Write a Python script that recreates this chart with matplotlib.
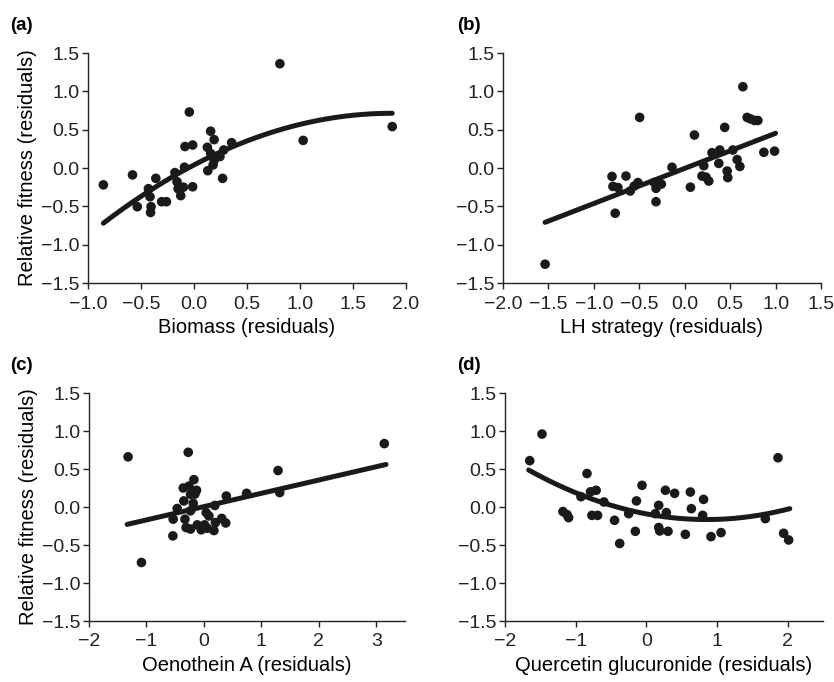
import matplotlib
matplotlib.use("Agg")
import matplotlib.pyplot as plt
import numpy as np

plt.rcParams['font.family'] = ['Liberation Sans', 'DejaVu Sans']
plt.rcParams['axes.unicode_minus'] = True

# Panel (a): biomass
biomass_x = [-0.855, -0.58, 0.81, -0.044, 1.03, 1.87, -0.36, -0.535, -0.43, -0.415,
             -0.405, -0.41, -0.305, -0.26, -0.18, -0.16, -0.15, -0.125, -0.10, -0.085,
             -0.013, -0.013, -0.09, 0.126, 0.13, 0.157, 0.19, 0.18, 0.21, 0.27,
             0.28, 0.355, 0.245, 0.157, 0.19]
biomass_y = [-0.22, -0.09, 1.36, 0.73, 0.36, 0.54, -0.135, -0.505, -0.27, -0.375,
             -0.505, -0.58, -0.44, -0.44, -0.06, -0.18, -0.27, -0.36, -0.25, 0.28,
             0.30, -0.245, 0.01, 0.27, -0.035, 0.48, 0.37, 0.04, 0.15, -0.135,
             0.235, 0.33, 0.15, 0.19, 0.10]
biomass_fit = [-0.194, 0.723, 0.04]   # quadratic coefficients
biomass_range = [-0.855, 1.87]

# Panel (b): LH strategy
lh_x = [-1.537, -0.80, -0.79, -0.735, -0.765, -0.647, -0.60, -0.555, -0.515, -0.496,
        -0.335, -0.316, -0.316, -0.257, -0.14, 0.0625, 0.107, 0.21, 0.19, 0.235,
        0.265, 0.30, 0.375, 0.386, 0.44, 0.467, 0.474, 0.53, 0.577, 0.607,
        0.64, 0.687, 0.724, 0.768, 0.805, 0.871, 0.989]
lh_y = [-1.255, -0.11, -0.24, -0.255, -0.59, -0.105, -0.30, -0.235, -0.19, 0.66,
        -0.19, -0.265, -0.44, -0.21, 0.01, -0.25, 0.43, 0.03, -0.105, -0.12,
        -0.17, 0.20, 0.06, 0.235, 0.53, -0.04, -0.125, 0.235, 0.11, 0.02,
        1.06, 0.66, 0.64, 0.62, 0.62, 0.205, 0.22]
lh_fit = [0.458, -0.005]
lh_range = [-1.537, 1.0]

# Panel (c): Oenothein A
oen_x = [-1.32, -1.087, -0.273, -0.54, -0.535, -0.465, -0.36, -0.35, -0.33, -0.31,
         -0.26, -0.233, -0.233, -0.233, -0.186, -0.174, -0.157, -0.128, -0.116, -0.047,
         0.012, 0.04, 0.058, 0.087, 0.174, 0.19, 0.2, 0.31, 0.38, 0.39,
         0.744, 1.29, 1.32, 3.14]
oen_y = [0.66, -0.73, 0.72, -0.38, -0.16, -0.02, 0.25, 0.08, -0.16, -0.27,
         0.275, 0.166, -0.05, -0.29, 0.048, 0.36, 0.17, 0.22, -0.235, -0.30,
         -0.235, -0.074, -0.28, -0.118, -0.31, 0.02, -0.205, -0.15, -0.21, 0.144,
         0.18, 0.48, 0.19, 0.834]
oen_fit = [0.175, 0.005]
oen_range = [-1.337, 3.17]

# Panel (d): Quercetin glucuronide
que_x = [-1.65, -1.476, -1.18, -1.123, -1.10, -0.925, -0.84, -0.79, -0.71, -0.77,
         -0.69, -0.60, -0.45, -0.377, -0.25, -0.156, -0.14, -0.061, 0.127, 0.175,
         0.175, 0.19, 0.27, 0.283, 0.307, 0.40, 0.552, 0.623, 0.637, 0.797,
         0.81, 0.915, 1.057, 1.684, 1.863, 1.943, 2.014]
que_y = [0.61, 0.96, -0.06, -0.10, -0.14, 0.136, 0.44, 0.20, 0.22, -0.11,
         -0.11, 0.066, -0.175, -0.48, -0.088, -0.32, 0.08, 0.285, -0.088, 0.022,
         -0.27, -0.315, 0.22, -0.074, -0.32, 0.18, -0.36, 0.197, -0.022, -0.11,
         0.10, -0.39, -0.337, -0.153, 0.648, -0.346, -0.434]
que_fit = [0.103, -0.1751, -0.0906]
que_range = [-1.665, 2.03]

W, H = 834, 682
fig = plt.figure(figsize=(W / 100, H / 100), dpi=100)


def make_ax(left, right, top, bottom):
    return fig.add_axes([left / W, 1 - bottom / H, (right - left) / W, (bottom - top) / H])


panels = [
    dict(box=(88, 406, 53, 283), x=biomass_x, y=biomass_y, fit=biomass_fit, rng=biomass_range,
         xlim=(-1.0, 2.0), xticks=[-1.0, -0.5, 0.0, 0.5, 1.0, 1.5, 2.0], fmt="{:.1f}",
         xlabel="Biomass (residuals)", tag="(a)", tagx=10, ylabel=True),
    dict(box=(503, 821, 53, 283), x=lh_x, y=lh_y, fit=lh_fit, rng=lh_range,
         xlim=(-2.0, 1.5), xticks=[-2.0, -1.5, -1.0, -0.5, 0.0, 0.5, 1.0, 1.5], fmt="{:.1f}",
         xlabel="LH strategy (residuals)", tag="(b)", tagx=457, ylabel=False),
    dict(box=(89, 405, 393, 621), x=oen_x, y=oen_y, fit=oen_fit, rng=oen_range,
         xlim=(-2, 3.5), xticks=[-2, -1, 0, 1, 2, 3], fmt="{:d}",
         xlabel="Oenothein A (residuals)", tag="(c)", tagx=10, ylabel=True),
    dict(box=(505, 823, 393, 621), x=que_x, y=que_y, fit=que_fit, rng=que_range,
         xlim=(-2, 2.5), xticks=[-2, -1, 0, 1, 2], fmt="{:d}",
         xlabel="Quercetin glucuronide (residuals)", tag="(d)", tagx=457, ylabel=False),
]

for p in panels:
    ax = make_ax(*p["box"])
    xs = np.linspace(p["rng"][0], p["rng"][1], 200)
    ax.plot(xs, np.polyval(p["fit"], xs), color="#1a1a1a", lw=3.6, solid_capstyle="round", zorder=2)
    ax.scatter(p["x"], p["y"], s=48, color="#1a1a1a", edgecolors="none", zorder=3)
    ax.set_xlim(*p["xlim"])
    ax.set_ylim(-1.5, 1.5)
    ax.set_xticks(p["xticks"])
    ax.set_xticklabels([p["fmt"].format(v).replace("-", "\u2212") for v in p["xticks"]])
    ax.set_yticks([-1.5, -1.0, -0.5, 0.0, 0.5, 1.0, 1.5])
    ax.set_yticklabels(["{:.1f}".format(v).replace("-", "\u2212") for v in ax.get_yticks()])
    for side in ("top", "right"):
        ax.spines[side].set_visible(False)
    for side in ("left", "bottom"):
        ax.spines[side].set_linewidth(1.0)
        ax.spines[side].set_color("#222222")
    ax.tick_params(direction="out", length=4, width=1, labelsize=14, pad=2, colors="#222222")
    ax.tick_params(axis="x", pad=5)
    ax.set_xlabel(p["xlabel"], fontsize=14.5, labelpad=4)
    if p["ylabel"]:
        ax.set_ylabel("Relative fitness (residuals)", fontsize=14.5, labelpad=3)
    left, right, top, bottom = p["box"]
    fig.text(p["tagx"] / W, 1 - (top - 27) / H, p["tag"], fontsize=13.5, fontweight="bold",
             va="center", ha="left")

fig.savefig("out.png", dpi=100)
